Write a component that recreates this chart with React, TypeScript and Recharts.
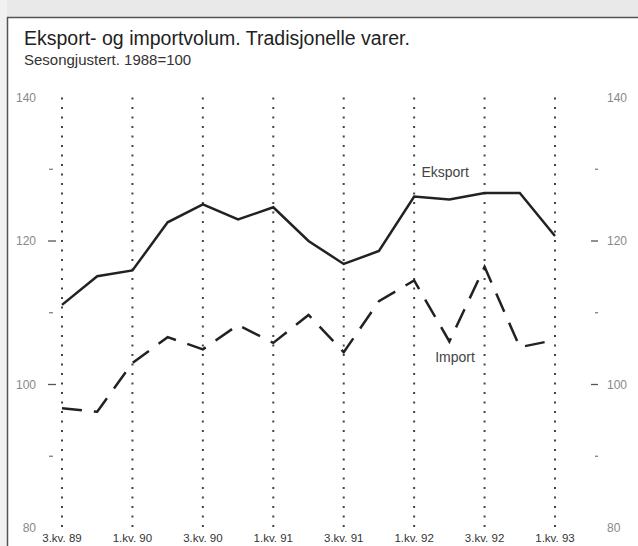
import React from 'react';
import { LineChart, Line, XAxis, YAxis, CartesianGrid, ReferenceDot } from 'recharts';

const quarters = [
  '3.kv. 89', '4.kv. 89', '1.kv. 90', '2.kv. 90', '3.kv. 90', '4.kv. 90',
  '1.kv. 91', '2.kv. 91', '3.kv. 91', '4.kv. 91', '1.kv. 92', '2.kv. 92',
  '3.kv. 92', '4.kv. 92', '1.kv. 93',
];
const eksport = [111.1, 115.1, 115.9, 122.6, 125.1, 123.0, 124.7, 120.0, 116.8, 118.6, 126.2, 125.8, 126.7, 126.7, 120.7];
const importVals = [96.7, 96.2, 103.0, 106.6, 104.9, 108.3, 105.8, 109.7, 104.5, 111.6, 114.5, 106.0, 116.4, 105.2, 106.2];
const xTicks = [0, 2, 4, 6, 8, 10, 12, 14];
const yTicks = [80, 90, 100, 110, 120, 130, 140];
const labeledY = [80, 100, 120, 140];

const data = quarters.map((q, i) => ({ i, q, eksport: eksport[i], import: importVals[i] }));

const FONT = '"Liberation Sans Narrow", "Arial Narrow", "Liberation Sans", Arial, sans-serif';

const LeftTick = (props: any) => {
  const { y, payload } = props;
  const v = payload.value;
  const labeled = labeledY.includes(v);
  return (
    <g>
      {labeled && (
        <text x={36} y={y} dy={4} textAnchor="end" fontSize={12} fontFamily={FONT} fill="#888">{v}</text>
      )}
      {(v === 100 || v === 120) && <line x1={48} x2={56} y1={y} y2={y} stroke="#555" strokeWidth={1.3} />}
      {(v === 90 || v === 110 || v === 130) && <line x1={49} x2={53} y1={y} y2={y} stroke="#777" strokeWidth={1.2} />}
    </g>
  );
};

const RightTick = (props: any) => {
  const { y, payload } = props;
  const v = payload.value;
  const labeled = labeledY.includes(v);
  return (
    <g>
      {labeled && (
        <text x={607} y={y} dy={4} textAnchor="start" fontSize={12} fontFamily={FONT} fill="#888">{v}</text>
      )}
      {(v === 100 || v === 120) && <line x1={591} x2={598} y1={y} y2={y} stroke="#555" strokeWidth={1.3} />}
      {(v === 90 || v === 110 || v === 130) && <line x1={595} x2={598} y1={y} y2={y} stroke="#777" strokeWidth={1.2} />}
    </g>
  );
};

const XTick = (props: any) => {
  const { x, payload } = props;
  return (
    <text x={x} y={542} textAnchor="middle" fontSize={11.5} fontFamily={FONT} fill="#333">{quarters[payload.value]}</text>
  );
};

export default function App() {
  return (
    <div style={{ position: 'absolute', left: 0, top: 0, width: 638, height: 546, background: '#fff', overflow: 'hidden' }}>
      <svg width={638} height={546} style={{ position: 'absolute', left: 0, top: 0 }}>
        <rect x={0} y={0} width={638} height={17} fill="#e9e9e9" />
        <rect x={0} y={0} width={7} height={546} fill="#f1f1f1" />
        <line x1={7} x2={638} y1={17.5} y2={17.5} stroke="#555" strokeWidth={1.5} />
        <line x1={7.5} x2={7.5} y1={17} y2={546} stroke="#555" strokeWidth={1.5} />
        <text x={24} y={45} fontSize={19.5} fontFamily={FONT} fill="#222">Eksport- og importvolum. Tradisjonelle varer.</text>
        <text x={24} y={65} fontSize={15} fontFamily={FONT} fill="#333">Sesongjustert. 1988=100</text>
      </svg>
      <div style={{ position: 'absolute', left: 0, top: 0 }}>
        <LineChart width={638} height={546} data={data} margin={{ top: 97.5, right: 0, bottom: 0, left: 0 }}>
          <CartesianGrid horizontal={false} vertical={true} stroke="#444" strokeWidth={2} strokeDasharray="2 7.5" yAxisId="l" />
          <XAxis dataKey="i" type="number" domain={[0, 14]} ticks={xTicks} height={18} axisLine={false} tickLine={false} tick={<XTick />} interval={0} />
          <YAxis yAxisId="l" domain={[80, 140]} ticks={yTicks} width={62} axisLine={false} tickLine={false} tick={<LeftTick />} interval={0} />
          <YAxis yAxisId="r" orientation="right" domain={[80, 140]} ticks={yTicks} width={83} axisLine={false} tickLine={false} tick={<RightTick />} interval={0} />
          <Line yAxisId="l" dataKey="eksport" stroke="#222" strokeWidth={2.5} dot={false} isAnimationActive={false} strokeLinejoin="miter" />
          <Line yAxisId="r" dataKey="import" stroke="#222" strokeWidth={2.5} strokeDasharray="20 12" dot={false} isAnimationActive={false} />
          <ReferenceDot yAxisId="l" x={10.88} y={129.6} r={0} label={{ value: 'Eksport', fontSize: 14, fontFamily: FONT, fill: '#444', position: 'center' }} />
          <ReferenceDot yAxisId="l" x={11.16} y={103.8} r={0} label={{ value: 'Import', fontSize: 14, fontFamily: FONT, fill: '#444', position: 'center' }} />
        </LineChart>
      </div>
    </div>
  );
}
